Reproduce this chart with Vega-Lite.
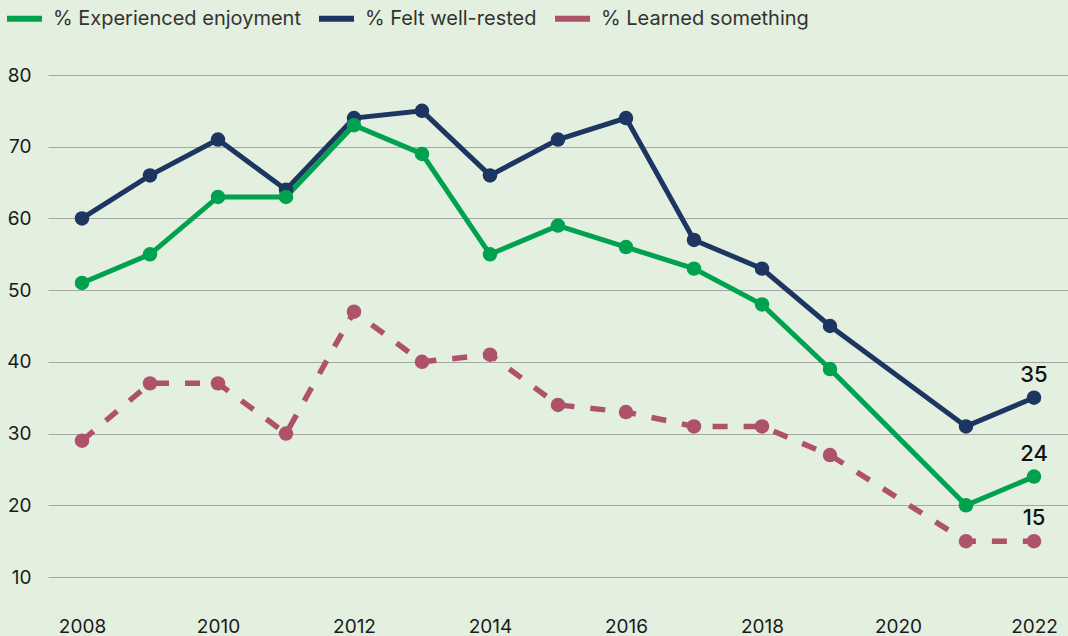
{
  "$schema": "https://vega.github.io/schema/vega-lite/v6.json",
  "width": 1020,
  "height": 502,
  "autosize": {"type": "none"},
  "padding": {"left": 48, "top": 75, "right": 0, "bottom": 59},
  "background": "#e3efdf",
  "config": {"view": {"stroke": null}, "font": "Inter"},
  "data": {
    "values": [
      {"series": "% Felt well-rested", "year": 2008, "value": 60},
      {"series": "% Felt well-rested", "year": 2009, "value": 66},
      {"series": "% Felt well-rested", "year": 2010, "value": 71},
      {"series": "% Felt well-rested", "year": 2011, "value": 64},
      {"series": "% Felt well-rested", "year": 2012, "value": 74},
      {"series": "% Felt well-rested", "year": 2013, "value": 75},
      {"series": "% Felt well-rested", "year": 2014, "value": 66},
      {"series": "% Felt well-rested", "year": 2015, "value": 71},
      {"series": "% Felt well-rested", "year": 2016, "value": 74},
      {"series": "% Felt well-rested", "year": 2017, "value": 57},
      {"series": "% Felt well-rested", "year": 2018, "value": 53},
      {"series": "% Felt well-rested", "year": 2019, "value": 45},
      {"series": "% Felt well-rested", "year": 2021, "value": 31},
      {"series": "% Felt well-rested", "year": 2022, "value": 35},
      {"series": "% Learned something", "year": 2008, "value": 29},
      {"series": "% Learned something", "year": 2009, "value": 37},
      {"series": "% Learned something", "year": 2010, "value": 37},
      {"series": "% Learned something", "year": 2011, "value": 30},
      {"series": "% Learned something", "year": 2012, "value": 47},
      {"series": "% Learned something", "year": 2013, "value": 40},
      {"series": "% Learned something", "year": 2014, "value": 41},
      {"series": "% Learned something", "year": 2015, "value": 34},
      {"series": "% Learned something", "year": 2016, "value": 33},
      {"series": "% Learned something", "year": 2017, "value": 31},
      {"series": "% Learned something", "year": 2018, "value": 31},
      {"series": "% Learned something", "year": 2019, "value": 27},
      {"series": "% Learned something", "year": 2021, "value": 15},
      {"series": "% Learned something", "year": 2022, "value": 15},
      {"series": "% Experienced enjoyment", "year": 2008, "value": 51},
      {"series": "% Experienced enjoyment", "year": 2009, "value": 55},
      {"series": "% Experienced enjoyment", "year": 2010, "value": 63},
      {"series": "% Experienced enjoyment", "year": 2011, "value": 63},
      {"series": "% Experienced enjoyment", "year": 2012, "value": 73},
      {"series": "% Experienced enjoyment", "year": 2013, "value": 69},
      {"series": "% Experienced enjoyment", "year": 2014, "value": 55},
      {"series": "% Experienced enjoyment", "year": 2015, "value": 59},
      {"series": "% Experienced enjoyment", "year": 2016, "value": 56},
      {"series": "% Experienced enjoyment", "year": 2017, "value": 53},
      {"series": "% Experienced enjoyment", "year": 2018, "value": 48},
      {"series": "% Experienced enjoyment", "year": 2019, "value": 39},
      {"series": "% Experienced enjoyment", "year": 2021, "value": 20},
      {"series": "% Experienced enjoyment", "year": 2022, "value": 24}
    ]
  },
  "encoding": {
    "x": {
      "field": "year",
      "type": "quantitative",
      "scale": {"domain": [2007.5, 2022.5], "nice": false, "zero": false},
      "axis": {
        "values": [2008, 2010, 2012, 2014, 2016, 2018, 2020, 2022],
        "format": "d",
        "grid": false,
        "domain": false,
        "ticks": false,
        "labelFontSize": 19,
        "labelColor": "#1a1a1a",
        "labelPadding": 40,
        "labelFlush": false,
        "title": null
      }
    },
    "y": {
      "field": "value",
      "type": "quantitative",
      "scale": {"domain": [10, 80], "nice": false, "zero": false},
      "axis": {
        "values": [10, 20, 30, 40, 50, 60, 70, 80],
        "domain": false,
        "ticks": false,
        "gridColor": "#a3a8a2",
        "gridWidth": 1.2,
        "labelFontSize": 19,
        "labelColor": "#1a1a1a",
        "labelPadding": 17,
        "title": null
      }
    },
    "color": {
      "field": "series",
      "type": "nominal",
      "scale": {
        "domain": ["% Experienced enjoyment", "% Felt well-rested", "% Learned something"],
        "range": ["#00a14f", "#1d3561", "#ae5269"]
      },
      "legend": {
        "orient": "none",
        "legendX": -44,
        "legendY": -77,
        "direction": "horizontal",
        "title": null,
        "symbolType": "stroke",
        "symbolStrokeWidth": 6,
        "symbolSize": 1225,
        "labelFontSize": 20,
        "labelColor": "#333333",
        "labelOffset": 8,
        "columnPadding": 6,
        "labelLimit": 400
      }
    }
  },
  "layer": [
    {
      "transform": [{"filter": "datum.series == '% Learned something'"}],
      "mark": {"type": "line", "strokeWidth": 5.5, "strokeDash": [15, 16]}
    },
    {
      "transform": [{"filter": "datum.series != '% Learned something'"}],
      "mark": {"type": "line", "strokeWidth": 5}
    },
    {
      "mark": {"type": "circle", "size": 210, "opacity": 1}
    },
    {
      "transform": [{"filter": "datum.year == 2022"}],
      "mark": {"type": "text", "dy": -16, "baseline": "alphabetic", "fontSize": 22, "fontWeight": 500, "color": "#111111"},
      "encoding": {"text": {"field": "value", "type": "quantitative"}, "color": {"value": "#111111"}}
    }
  ]
}
